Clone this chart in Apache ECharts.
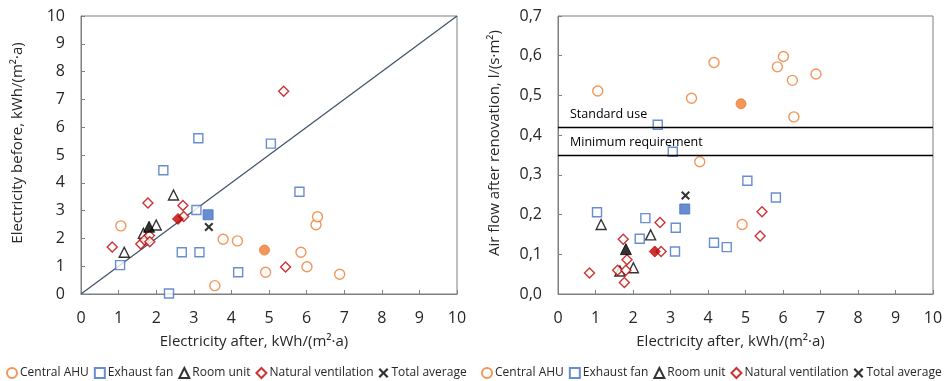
<!DOCTYPE html>
<html><head><meta charset="utf-8">
<script src="https://cdn.jsdelivr.net/npm/echarts@6/dist/echarts.min.js"></script>
<style>html,body{margin:0;padding:0;background:#fff}#c{width:950px;height:381px}</style>
</head><body><div id="c"></div>
<script>
// ---- data ----
const xTicks = [0,1,2,3,4,5,6,7,8,9,10];
// Central AHU
const ahuAfter  = [1.06, 3.56, 3.78, 4.16, 4.91, 5.85, 6.01, 6.25, 6.29, 6.88];
const ahuBefore = [2.45, 0.30, 1.97, 1.91, 0.78, 1.50, 0.98, 2.49, 2.78, 0.71];
const ahuFlow   = [0.511, 0.493, 0.333, 0.583, 0.175, 0.572, 0.598, 0.538, 0.446, 0.554];
// Exhaust fan
const exhAfterL  = [1.04, 2.19, 2.34, 2.68, 3.07, 3.12, 3.15, 4.18, 5.05, 5.81];
const exhBefore  = [1.04, 4.45, 0.02, 1.50, 3.02, 5.60, 1.50, 0.78, 5.41, 3.68];
const exhAfterR  = [1.04, 2.18, 2.33, 2.66, 3.06, 3.12, 3.14, 4.16, 4.50, 5.05, 5.81];
const exhFlow    = [0.206, 0.139, 0.191, 0.426, 0.358, 0.107, 0.167, 0.129, 0.118, 0.285, 0.243];
// Room unit
const roomAfterL = [1.15, 1.66, 2.00, 2.46];
const roomBefore = [1.50, 2.18, 2.48, 3.56];
const roomAfterR = [1.15, 1.65, 2.01, 2.47];
const roomFlow   = [0.175, 0.058, 0.066, 0.149];
// Natural ventilation
const natAfterL  = [0.83, 1.59, 1.69, 1.78, 1.82, 1.83, 2.71, 2.73, 5.39, 5.44];
const natBefore  = [1.69, 1.80, 1.94, 3.27, 2.10, 1.88, 3.18, 2.79, 7.29, 0.97];
const natAfterR  = [0.84, 1.59, 1.74, 1.77, 1.81, 1.84, 2.72, 2.75, 5.39, 5.44];
const natFlow    = [0.053, 0.060, 0.138, 0.029, 0.060, 0.086, 0.180, 0.107, 0.146, 0.207];
// Averages [after, before, flow]
const meanAhu   = [4.88, 1.58, 0.479];
const meanExh   = [3.38, 2.85, 0.214];
const meanRoom  = [1.81, 2.42, 0.113];
const meanNat   = [2.58, 2.70, 0.107];
const meanTotal = [3.40, 2.41, 0.248];
// reference lines
const diagLine = [[0,0],[10,10]];
const standardUse = 0.424;
const minRequirement = 0.347;

const names = ['Central AHU','Exhaust fan','Room unit','Natural ventilation','Total average'];
const C = {ahu:'#ED7D31', exh:'#4472C4', room:'#000000', nat:'#C00000', tot:'#000000'};
const FONT = 'Open Sans';
const zip = (a,b) => a.map((v,i)=>[v,b[i]]);
const X_PATH = 'path://M0,1.6 L1.6,0 L5,3.4 L8.4,0 L10,1.6 L6.6,5 L10,8.4 L8.4,10 L5,6.6 L1.6,10 L0,8.4 L3.4,5 Z';

function hollow(name, sym, color, data, xi, yi, size){
  return {type:'scatter', name, symbol:sym, symbolSize:size, xAxisIndex:xi, yAxisIndex:yi, data,
    itemStyle:{color:'#fff', borderColor:color, borderWidth:1.4}, z:3};
}
function filled(name, sym, color, pt, xi, yi, size){
  return {type:'scatter', name, symbol:sym, symbolSize:size, xAxisIndex:xi, yAxisIndex:yi, data:[pt],
    itemStyle:{color:color, borderColor:color, borderWidth:1}, z:4};
}
function panelSeries(k){
  const yi = k, xi = k;
  const a = k===0 ? zip(ahuAfter, ahuBefore) : zip(ahuAfter, ahuFlow);
  const e = k===0 ? zip(exhAfterL, exhBefore) : zip(exhAfterR, exhFlow);
  const r = k===0 ? zip(roomAfterL, roomBefore) : zip(roomAfterR, roomFlow);
  const n = k===0 ? zip(natAfterL, natBefore) : zip(natAfterR, natFlow);
  const j = k===0 ? 1 : 2;
  return [
    hollow(names[0],'circle',C.ahu,a,xi,yi,10),
    hollow(names[1],'rect',C.exh,e,xi,yi,9),
    hollow(names[2],'triangle',C.room,r,xi,yi,10),
    hollow(names[3],'diamond',C.nat,n,xi,yi,10),
    filled(names[0],'circle',C.ahu,[meanAhu[0],meanAhu[j]],xi,yi,10),
    filled(names[1],'rect',C.exh,[meanExh[0],meanExh[j]],xi,yi,10),
    filled(names[2],'triangle',C.room,[meanRoom[0],meanRoom[j]],xi,yi,11),
    filled(names[3],'diamond',C.nat,[meanNat[0],meanNat[j]],xi,yi,11),
    {type:'scatter', name:names[4], symbol:X_PATH, symbolSize:9, xAxisIndex:xi, yAxisIndex:yi,
      data:[[meanTotal[0],meanTotal[j]]], itemStyle:{color:C.tot}, z:4}
  ];
}

const grids = [
  {left:81, top:16, width:376, height:278, show:true, borderColor:'#7f7f7f', borderWidth:1},
  {left:558, top:16, width:375, height:278, show:true, borderColor:'#7f7f7f', borderWidth:1}
];
const tickLabel = {color:'#262626', fontFamily:FONT, fontSize:16, margin:16};
function xAxis(g){
  return {type:'value', gridIndex:g, min:0, max:10, interval:1,
    name:'Electricity after, kWh/(m²·a)', nameLocation:'middle', nameGap:40,
    nameTextStyle:{color:'#262626', fontFamily:FONT, fontSize:15, padding:[0,30,0,0]},
    axisLine:{show:true, lineStyle:{color:'#7f7f7f'}},
    axisTick:{show:true, inside:true, length:4, lineStyle:{color:'#7f7f7f'}},
    splitLine:{show:false}, axisLabel:tickLabel};
}
const yAxes = [
  {type:'value', gridIndex:0, min:0, max:10, interval:1,
    name:'Electricity before, kWh/(m²·a)', nameLocation:'middle', nameGap:56,
    nameTextStyle:{color:'#262626', fontFamily:FONT, fontSize:15, padding:[0,0,0,24]},
    axisLine:{show:true, lineStyle:{color:'#7f7f7f'}},
    axisTick:{show:true, inside:true, length:4, lineStyle:{color:'#7f7f7f'}},
    splitLine:{show:false}, axisLabel:Object.assign({}, tickLabel, {margin:16})},
  {type:'value', gridIndex:1, min:0, max:0.7, interval:0.1,
    name:'Air flow after renovation, l/(s·m²)', nameLocation:'middle', nameGap:56,
    nameTextStyle:{color:'#262626', fontFamily:FONT, fontSize:15, padding:[0,0,0,24]},
    axisLine:{show:true, lineStyle:{color:'#7f7f7f'}},
    axisTick:{show:true, inside:true, length:4, lineStyle:{color:'#7f7f7f'}},
    splitLine:{show:false},
    axisLabel:Object.assign({}, tickLabel, {margin:16, formatter:v=>v.toFixed(1).replace('.',',')})}
];

const refLabel = {show:true, formatter:'{b}', position:'insideStartTop', color:'#000',
  fontFamily:FONT, fontSize:12.5, distance:[12,6]};
const series = [
  {type:'line', xAxisIndex:0, yAxisIndex:0, data:diagLine, symbol:'none', silent:true,
    lineStyle:{color:'#44546A', width:1.3}, z:2},
  {type:'line', xAxisIndex:1, yAxisIndex:1, data:[], silent:true, symbol:'none',
    markLine:{silent:true, symbol:'none', lineStyle:{color:'#000', width:1.3, type:'solid'}, label:refLabel,
      data:[{yAxis:standardUse, name:'Standard use'},{yAxis:minRequirement, name:'Minimum requirement'}]}},
  ...panelSeries(0), ...panelSeries(1)
];
const legendBase = {data:names, top:362, itemWidth:10, itemHeight:10, itemGap:5, orient:'horizontal',
  textStyle:{color:'#262626', fontFamily:FONT, fontSize:12, padding:[0,0,0,-2]}, selectedMode:false};
const option = {
  animation:false,
  grid:grids,
  xAxis:[xAxis(0), xAxis(1)],
  yAxis:yAxes,
  legend:[Object.assign({left:1, width:472}, legendBase), Object.assign({left:476, width:472}, legendBase)],
  series
};
const chart = echarts.init(document.getElementById('c'), null, {renderer:'canvas'});
chart.setOption(option);
</script></body></html>
